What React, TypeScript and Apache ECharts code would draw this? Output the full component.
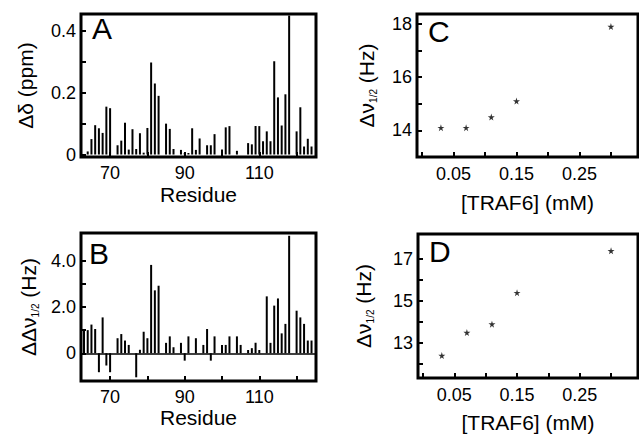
import React, { useEffect, useRef } from "react";
import * as echarts from "echarts";

// Panel A: chemical shift perturbation per residue
const aResidues = [64,65,66,67,68,69,70,72,73,74,75,76,77,78,79,80,81,82,83,85,86,87,89,90,91,92,93,94,96,97,98,100,101,102,104,107,108,109,110,111,112,113,114,115,116,117,118,120,121,122,123,124];
const aShift = [0.01,0.05,0.095,0.085,0.07,0.155,0.15,0.03,0.045,0.103,0.016,0.082,0.018,0.069,0.006,0.086,0.298,0.23,0.19,0.1,0.083,0.018,0.015,0.005,0.005,0.085,0.015,0.052,0.03,0.03,0.066,0.016,0.088,0.092,0.012,0.037,0.033,0.092,0.092,0.043,0.075,0.043,0.302,0.185,0.094,0.195,0.45,0.075,0.153,0.026,0.051,0.026];

// Panel B: line-width change per residue
const bResidues = [63,64,65,66,67,68,69,70,72,73,74,75,77,78,79,80,81,82,83,85,86,87,89,90,91,93,95,96,97,98,100,101,102,104,105,107,108,109,110,112,113,114,115,116,117,118,120,121,122,123,124];
const bWidth = [1.0,1.0,1.24,1.05,-0.82,1.55,-0.53,-0.82,0.65,0.83,0.55,0.36,-1.04,0.15,0.93,0.65,3.82,2.72,2.92,0.45,0.73,0.26,0.45,-0.32,0.73,0.65,0.36,1.05,-0.32,0.73,0.36,0.36,0.73,0.73,0.36,0.14,0.22,0.45,0.14,2.46,0.45,2.06,2.37,0.86,1.27,5.08,1.84,1.55,1.27,0.55,0.55];

// Panels C, D: titration
const traf6 = [0.03, 0.07, 0.11, 0.15, 0.30];
const cWidth = [14.1, 14.1, 14.5, 15.1, 17.9];
const dWidth = [12.4, 13.5, 13.9, 15.4, 17.4];

const residueTicks = [70, 80, 90, 100, 110, 120];
const residueLabels = [70, 90, 110];
const aTicks = [0, 0.1, 0.2, 0.3, 0.4];
const aLabels = [0, 0.2, 0.4];
const bTicks = [0, 1, 2, 3, 4];
const bLabels = [0, 2, 4];
const concTicks = [0, 0.05, 0.1, 0.15, 0.2, 0.25, 0.3];
const concLabels = [0.05, 0.15, 0.25];
const cTicks = [14, 15, 16, 17, 18];
const cLabels = [14, 16, 18];
const dTicks = [12, 13, 14, 15, 16, 17];
const dLabels = [13, 15, 17];

const FONT = "'Liberation Sans', Arial, Helvetica, sans-serif";
const STAR = "path://M50,0 L61,35 L98,35 L68,57 L79,91 L50,70 L21,91 L32,57 L2,35 L39,35 Z";

function App() {
  const ref = useRef<HTMLDivElement>(null);
  useEffect(() => {
    if (!ref.current) return;
    const chart = echarts.init(ref.current, null, { renderer: "svg" });

    const grids = [
      { left: 81, top: 14, width: 235, height: 143 },
      { left: 81, top: 233, width: 235, height: 148 },
      { left: 417, top: 14, width: 221, height: 143 },
      { left: 418, top: 234, width: 220, height: 144 },
    ].map((g) => ({
      ...g,
      show: true,
      borderColor: "#000",
      borderWidth: 3,
      backgroundColor: "transparent",
      containLabel: false,
      outerBoundsMode: "none",
    }));

    const tick = (vals: number[]) => ({
      show: true,
      inside: true,
      length: 5,
      customValues: vals,
      lineStyle: { color: "#000", width: 2 },
    });
    const lbl = (vals: number[], fmt: (v: number) => string, margin: number) => ({
      show: true,
      customValues: vals,
      formatter: fmt,
      fontSize: 18,
      fontFamily: FONT,
      color: "#000",
      margin,
    });
    const nameStyle = {
      fontSize: 21,
      fontFamily: FONT,
      color: "#000",
      rich: {
        s: { fontSize: 10, fontFamily: FONT, color: "#000", verticalAlign: "bottom", padding: [0, 0, -1, 0] },
      },
    };
    const fmtY = (v: number) => (v === 0 ? "0" : v.toFixed(1));
    const fmtInt = (v: number) => String(Math.round(v));
    const fmtConc = (v: number) => v.toFixed(2);

    const xRes = (gi: number, gap: number) => ({
      type: "value",
      gridIndex: gi,
      min: 62.2,
      max: 125.2,
      axisLine: { show: false, onZero: false },
      axisTick: tick(residueTicks),
      axisLabel: lbl(residueLabels, fmtInt, 7),
      splitLine: { show: false },
      name: "Residue",
      nameLocation: "middle",
      nameGap: gap,
      nameTextStyle: { fontSize: 21, fontFamily: FONT, color: "#000" },
    });
    const xConc = (gi: number, gap: number) => ({
      type: "value",
      gridIndex: gi,
      min: -0.008,
      max: 0.343,
      axisLine: { show: false, onZero: false },
      axisTick: tick(concTicks),
      axisLabel: lbl(concLabels, fmtConc, 8),
      splitLine: { show: false },
      name: "[TRAF6] (mM)",
      nameLocation: "middle",
      nameGap: gap,
      nameTextStyle: { fontSize: 21, fontFamily: FONT, color: "#000" },
    });
    const yAxis = (gi: number, min: number, max: number, ticks: number[], labels: number[], fmt: (v: number) => string, name: string, gap: number) => ({
      type: "value",
      gridIndex: gi,
      min,
      max,
      axisLine: { show: false, onZero: false },
      axisTick: tick(ticks),
      axisLabel: lbl(labels, fmt, 5),
      splitLine: { show: false },
      name,
      nameLocation: "middle",
      nameRotate: 90,
      nameGap: gap,
      nameTextStyle: nameStyle,
    });

    const letters = [
      { t: "A", x: 92, y: 13 },
      { t: "B", x: 89, y: 238 },
      { t: "C", x: 428, y: 16 },
      { t: "D", x: 429, y: 236 },
    ];

    chart.setOption({
      animation: false,
      backgroundColor: "#fff",
      grid: grids,
      xAxis: [xRes(0, 27), xRes(1, 24), xConc(2, 35), xConc(3, 34)],
      yAxis: [
        yAxis(0, -0.008, 0.455, aTicks, aLabels, fmtY, "Δδ (ppm)", 45),
        yAxis(1, -1.2, 5.2, bTicks, bLabels, fmtY, "ΔΔν{s|1/2} (Hz)", 42),
        yAxis(2, 13.0, 18.37, cTicks, cLabels, fmtInt, "Δν{s|1/2} (Hz)", 40),
        yAxis(3, 11.33, 18.2, dTicks, dLabels, fmtInt, "Δν{s|1/2} (Hz)", 44),
      ],
      series: [
        {
          type: "bar",
          xAxisIndex: 0,
          yAxisIndex: 0,
          data: aResidues.map((r, i) => [r, aShift[i]]),
          barWidth: 2,
          itemStyle: { color: "#000" },
        },
        {
          type: "bar",
          xAxisIndex: 1,
          yAxisIndex: 1,
          data: bResidues.map((r, i) => [r, bWidth[i]]),
          barWidth: 2,
          itemStyle: { color: "#000" },
          markLine: {
            silent: true,
            symbol: "none",
            label: { show: false },
            lineStyle: { color: "#000", width: 1.5, type: "solid" },
            data: [{ yAxis: 0 }],
          },
        },
        {
          type: "scatter",
          xAxisIndex: 2,
          yAxisIndex: 2,
          data: traf6.map((x, i) => [x, cWidth[i]]),
          symbol: STAR,
          symbolSize: 7,
          itemStyle: { color: "#000" },
        },
        {
          type: "scatter",
          xAxisIndex: 3,
          yAxisIndex: 3,
          data: traf6.map((x, i) => [x, dWidth[i]]),
          symbol: STAR,
          symbolSize: 7,
          itemStyle: { color: "#000" },
        },
      ],
      graphic: letters.map((l) => ({
        type: "text",
        left: l.x,
        top: l.y,
        style: { text: l.t, fontSize: 30, fontFamily: FONT, fill: "#000" },
      })),
    });
    return () => chart.dispose();
  }, []);
  return (
    <div
      ref={ref}
      style={{ position: "fixed", left: 0, top: 0, width: 639, height: 437, background: "#fff" }}
    />
  );
}

export default App;
